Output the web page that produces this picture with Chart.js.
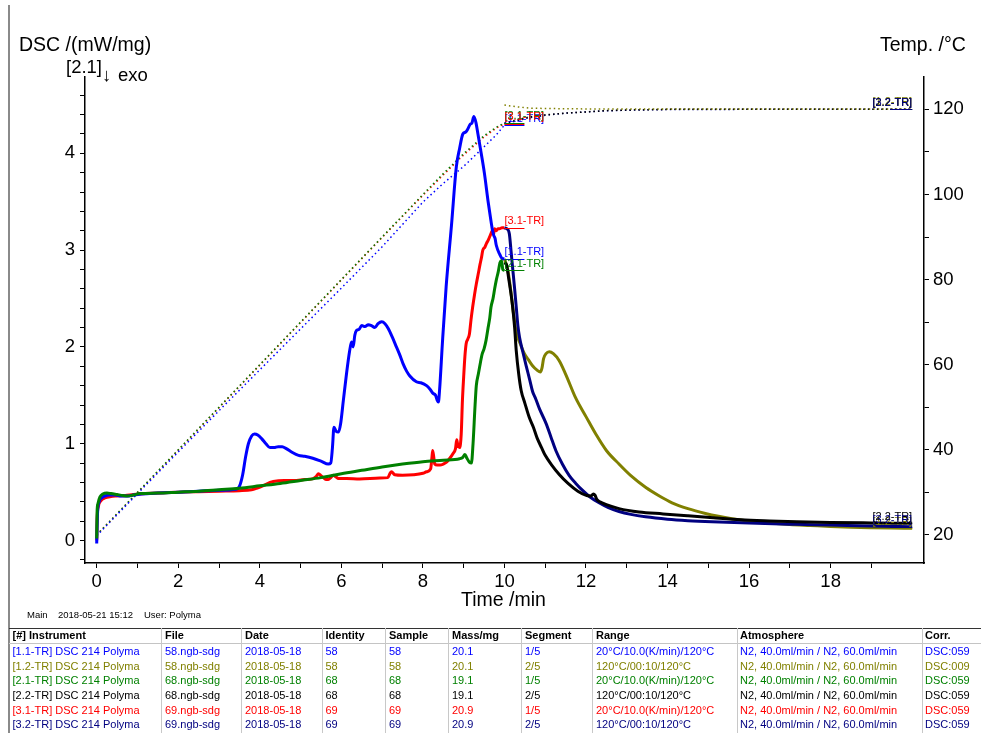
<!DOCTYPE html>
<html>
<head>
<meta charset="utf-8">
<script src="https://cdn.jsdelivr.net/npm/chart.js@4.4.0/dist/chart.umd.min.js"></script>
<style>
html,body{margin:0;padding:0;background:#fff;width:981px;height:733px;overflow:hidden;font-family:"Liberation Sans",Arial,sans-serif;}
#c{position:absolute;left:0;top:0;width:981px;height:610px;}
.t{position:absolute;white-space:nowrap;color:#000;line-height:1;}
.ln{position:absolute;}
</style>
</head>
<body>
<canvas id="c" width="981" height="610"></canvas>
<div id="overlay"></div>
<script>
// ---------------- DATA ----------------
// DSC curves (mW/mg) vs time (min)
const tBlue = [0,0.02,0.06,0.12,0.2,0.3,0.45,0.6,0.75,0.9,1.1,1.5,2.0,2.5,3.0,3.4,3.5,3.58,3.65,3.72,3.8,3.87,3.95,4.05,4.15,4.25,4.35,4.45,4.55,4.65,4.8,4.95,5.1,5.3,5.5,5.68,5.74,5.78,5.82,5.87,5.93,5.98,6.05,6.12,6.2,6.25,6.29,6.33,6.37,6.43,6.5,6.58,6.66,6.74,6.82,6.9,6.99,7.07,7.15,7.25,7.35,7.43,7.51,7.6,7.68,7.84,7.95,8.09,8.18,8.25,8.31,8.35,8.38,8.41,8.48,8.57,8.7,8.82,8.9,8.98,9.05,9.1,9.16,9.2,9.25,9.3,9.35,9.43,9.51,9.6,9.67,9.71,9.74,9.77,9.8,9.88,9.96,10.0];
const dscBlue = [-0.03,0.28,0.4,0.44,0.46,0.47,0.47,0.46,0.46,0.47,0.48,0.49,0.5,0.51,0.52,0.53,0.56,0.68,0.86,1.0,1.08,1.1,1.09,1.05,1.0,0.96,0.96,0.97,0.97,0.95,0.91,0.88,0.87,0.85,0.82,0.79,0.8,0.95,1.17,1.13,1.12,1.2,1.45,1.7,1.95,2.05,2.0,2.12,2.17,2.18,2.22,2.21,2.23,2.22,2.2,2.24,2.26,2.24,2.19,2.1,2.0,1.92,1.83,1.75,1.7,1.64,1.63,1.6,1.56,1.52,1.5,1.45,1.43,1.56,2.05,2.62,3.25,3.86,4.05,4.2,4.22,4.25,4.3,4.31,4.38,4.32,4.2,4.0,3.79,3.5,3.3,3.2,3.15,3.12,3.05,2.96,2.91,2.91];

const tOlive = [10.0,10.08,10.15,10.22,10.29,10.38,10.49,10.6,10.7,10.8,10.88,10.92,10.96,11.02,11.1,11.2,11.34,11.5,11.75,12.0,12.24,12.5,12.81,13.1,13.46,13.8,14.11,14.5,14.93,15.25,15.58,16.0,16.5,17.0,17.5,18.0,18.5,19.0,19.5,20.0];
const dscOlive = [2.91,2.8,2.6,2.35,2.15,2.04,1.93,1.86,1.8,1.76,1.74,1.78,1.88,1.93,1.95,1.93,1.86,1.72,1.47,1.28,1.1,0.93,0.79,0.67,0.55,0.46,0.39,0.33,0.28,0.25,0.225,0.2,0.18,0.165,0.155,0.145,0.138,0.133,0.129,0.126];

const tGreen = [0,0.01,0.03,0.08,0.15,0.25,0.35,0.5,0.65,0.75,0.9,1.06,1.5,2.0,2.5,3.0,3.5,4.0,4.5,5.0,5.5,6.0,6.5,7.0,7.5,8.0,8.5,8.9,8.98,9.03,9.08,9.14,9.19,9.23,9.28,9.31,9.36,9.39,9.45,9.5,9.55,9.6,9.64,9.67,9.72,9.76,9.8,9.85,9.89,9.93,9.96,10.0];
const dscGreen = [0.02,0.3,0.38,0.45,0.48,0.49,0.485,0.475,0.465,0.46,0.47,0.485,0.49,0.5,0.51,0.525,0.54,0.565,0.59,0.62,0.65,0.69,0.725,0.76,0.79,0.815,0.83,0.845,0.86,0.89,0.85,0.81,0.8,1.0,1.4,1.6,1.72,1.79,1.92,1.98,2.07,2.2,2.3,2.41,2.5,2.6,2.69,2.78,2.87,2.89,2.8,2.79];

const tBlack = [10.0,10.05,10.1,10.15,10.2,10.25,10.29,10.35,10.41,10.5,10.61,10.71,10.8,10.91,11.0,11.16,11.35,11.56,11.8,12.02,12.12,12.18,12.22,12.26,12.34,12.5,12.81,13.3,13.89,14.5,15.12,15.8,16.5,17.17,18.0,19.0,20.0];
const dscBlack = [2.87,2.85,2.72,2.58,2.42,2.2,1.96,1.72,1.55,1.42,1.27,1.17,1.06,0.96,0.88,0.78,0.68,0.59,0.51,0.465,0.46,0.48,0.47,0.43,0.4,0.37,0.33,0.295,0.275,0.255,0.235,0.215,0.203,0.194,0.187,0.182,0.178];

const tRed = [0,0.01,0.04,0.1,0.2,0.35,0.49,0.7,0.9,1.2,2.0,2.5,3.0,3.5,3.8,3.92,4.1,4.25,4.33,4.6,4.82,5.1,5.31,5.38,5.44,5.5,5.56,5.63,5.68,5.74,5.8,5.86,5.93,6.13,6.45,6.94,7.14,7.2,7.23,7.31,7.5,7.77,8.0,8.09,8.19,8.22,8.24,8.27,8.29,8.35,8.42,8.5,8.58,8.66,8.74,8.8,8.83,8.86,8.9,8.94,8.97,9.0,9.03,9.06,9.1,9.14,9.18,9.22,9.27,9.31,9.36,9.4,9.44,9.47,9.52,9.56,9.6,9.63,9.67,9.7,9.73,9.76,9.8,9.84,9.88,9.94,10.0];
const dscRed = [0.0,0.22,0.35,0.41,0.44,0.455,0.46,0.465,0.475,0.485,0.5,0.505,0.51,0.515,0.525,0.54,0.57,0.6,0.61,0.62,0.62,0.63,0.64,0.66,0.69,0.67,0.65,0.63,0.63,0.65,0.675,0.66,0.64,0.64,0.635,0.645,0.65,0.7,0.71,0.68,0.675,0.68,0.695,0.71,0.74,0.85,0.93,0.85,0.79,0.78,0.78,0.79,0.81,0.85,0.9,0.95,1.04,0.98,0.96,1.1,1.45,1.69,1.9,2.03,2.08,2.13,2.28,2.41,2.55,2.65,2.76,2.85,2.93,3.0,3.03,3.07,3.1,3.13,3.17,3.2,3.16,3.22,3.2,3.22,3.22,3.23,3.23];

const tNavy = [10.0,10.06,10.12,10.16,10.2,10.25,10.29,10.33,10.37,10.45,10.53,10.62,10.69,10.77,10.86,11.02,11.14,11.26,11.42,11.59,11.75,11.91,12.1,12.32,12.55,12.81,13.1,13.46,14.0,14.5,15.09,16.0,17.13,18.0,19.0,20.0];
const dscNavy = [3.23,3.22,3.17,3.0,2.82,2.6,2.41,2.22,2.1,1.95,1.81,1.66,1.54,1.46,1.36,1.21,1.07,0.93,0.79,0.67,0.59,0.52,0.45,0.39,0.34,0.3,0.27,0.245,0.22,0.205,0.193,0.18,0.168,0.16,0.15,0.143];

// Temperature curves (°C) vs time (min)
const tTempSeg1 = [0,1,2,3,4,5,6,7,8,8.5,9,9.5,9.8,10.0];
const tempBlue  = [19.8,29.7,39.5,49.2,58.8,68.4,78.0,87.7,98.2,102.6,106.6,111.2,114.0,116.3];
const tempGreen = [20.0,30.0,40.0,50.0,60.0,70.0,80.0,90.0,100.0,104.9,109.6,113.8,115.8,116.8];
const tempRed   = [20.0,29.9,39.9,49.9,59.9,69.9,79.9,89.9,99.8,104.6,109.3,113.5,115.6,116.6];
const tTempSeg2 = [10.0,10.3,10.6,11.0,11.5,12.0,12.5,13.0,14.0,16.0,18.0,20.0];
const tempOlive = [121.0,120.6,120.3,120.2,120.15,120.1,120.1,120.1,120.1,120.1,120.1,120.1];
const tempBlack = [116.8,117.5,118.2,118.7,119.1,119.4,119.7,119.85,120.0,120.0,120.0,120.0];
const tempNavy  = [116.6,117.3,118.0,118.6,119.1,119.4,119.65,119.8,119.95,120.0,120.0,120.0];

// Tick values and labels
const xTicks = [0,1,2,3,4,5,6,7,8,9,10,11,12,13,14,15,16,17,18,19];
const xLabeled = [0,2,4,6,8,10,12,14,16,18];
const yTicks = [-0.2,0,0.2,0.4,0.6,0.8,1,1.2,1.4,1.6,1.8,2,2.2,2.4,2.6,2.8,3,3.2,3.4,3.6,3.8,4,4.2,4.4,4.6];
const yLabeled = [0,1,2,3,4];
const tTicks = [20,30,40,50,60,70,80,90,100,110,120];
const tLabeled = [20,40,60,80,100,120];

// Table
const tableHeaders = ['[#] Instrument','File','Date','Identity','Sample','Mass/mg','Segment','Range','Atmosphere','Corr.'];
const instruments = ['[1.1-TR] DSC 214 Polyma','[1.2-TR] DSC 214 Polyma','[2.1-TR] DSC 214 Polyma','[2.2-TR] DSC 214 Polyma','[3.1-TR] DSC 214 Polyma','[3.2-TR] DSC 214 Polyma'];
const files = ['58.ngb-sdg','58.ngb-sdg','68.ngb-sdg','68.ngb-sdg','69.ngb-sdg','69.ngb-sdg'];
const dates = ['2018-05-18','2018-05-18','2018-05-18','2018-05-18','2018-05-18','2018-05-18'];
const identities = ['58','58','68','68','69','69'];
const samples = ['58','58','68','68','69','69'];
const masses = ['20.1','20.1','19.1','19.1','20.9','20.9'];
const segments = ['1/5','2/5','1/5','2/5','1/5','2/5'];
const ranges = ['20°C/10.0(K/min)/120°C','120°C/00:10/120°C','20°C/10.0(K/min)/120°C','120°C/00:10/120°C','20°C/10.0(K/min)/120°C','120°C/00:10/120°C'];
const atmospheres = ['N2, 40.0ml/min / N2, 60.0ml/min','N2, 40.0ml/min / N2, 60.0ml/min','N2, 40.0ml/min / N2, 60.0ml/min','N2, 40.0ml/min / N2, 60.0ml/min','N2, 40.0ml/min / N2, 60.0ml/min','N2, 40.0ml/min / N2, 60.0ml/min'];
const corrs = ['DSC:059','DSC:009','DSC:059','DSC:059','DSC:059','DSC:059'];
const tags = ['[1.1-TR]','[1.2-TR]','[2.1-TR]','[2.2-TR]','[3.1-TR]','[3.2-TR]'];

// ---------------- STYLE ----------------
const FONT = '"Liberation Sans", Arial, sans-serif';
const C = {blue:'#0000ff', olive:'#808000', green:'#008000', black:'#000000', red:'#ff0000', navy:'#000080'};
const rowColors = [C.blue, C.olive, C.green, C.black, C.red, C.navy];

const pts = (xs, ys) => xs.map((x, i) => ({x: x, y: ys[i]}));
function dsc(label, xs, ys, color, side) {
  return {data: pts(xs, ys), borderColor: color, backgroundColor: color, borderWidth: 3, pointRadius: 0,
    yAxisID: 'y', cubicInterpolationMode: 'monotone', fill: false, endLabel: label, labelSide: side, labelRank: 0};
}
function temp(label, xs, ys, color, side) {
  return {data: pts(xs, ys), borderColor: color, backgroundColor: color, borderWidth: 1.5, borderDash: [1.5, 3],
    pointRadius: 0, yAxisID: 'yT', tension: 0, fill: false, endLabel: label, labelSide: side};
}

const datasets = [
  dsc(tags[2], tGreen, dscGreen, C.green, 'left'),   // 0
  dsc(tags[0], tBlue, dscBlue, C.blue, 'left'),      // 1
  dsc(tags[3], tBlack, dscBlack, C.black, 'right'),  // 2
  dsc(tags[5], tNavy, dscNavy, C.navy, 'right'),     // 3
  dsc(tags[4], tRed, dscRed, C.red, 'left'),         // 4
  dsc(tags[1], tOlive, dscOlive, C.olive, 'right'),  // 5
  temp(tags[0], tTempSeg1, tempBlue, C.blue, 'left'),    // 6
  temp(tags[2], tTempSeg1, tempGreen, C.green, 'left'),  // 7
  temp(tags[4], tTempSeg1, tempRed, C.red, 'left'),      // 8
  temp(tags[1], tTempSeg2, tempOlive, C.olive, 'right'), // 9
  temp(tags[3], tTempSeg2, tempBlack, C.black, 'right'), // 10
  temp(tags[5], tTempSeg2, tempNavy, C.navy, 'right')    // 11
];
const labelOrder = [1, 5, 0, 2, 4, 3, 6, 9, 7, 10, 8, 11];

const endLabels = {
  id: 'endLabels',
  afterDatasetsDraw(chart) {
    const ctx = chart.ctx;
    ctx.save();
    ctx.font = '11px ' + FONT;
    ctx.textBaseline = 'bottom';
    labelOrder.forEach(i => {
      const ds = chart.data.datasets[i];
      const meta = chart.getDatasetMeta(i);
      const p = meta.data[meta.data.length - 1];
      if (!p) return;
      ctx.fillStyle = ds.borderColor;
      ctx.strokeStyle = ds.borderColor;
      ctx.lineWidth = 1;
      ctx.beginPath();
      if (ds.labelSide === 'left') {
        ctx.textAlign = 'left';
        ctx.fillText(ds.endLabel, p.x, p.y - 1);
        ctx.moveTo(p.x, Math.round(p.y) + 0.5); ctx.lineTo(p.x + 20, Math.round(p.y) + 0.5);
      } else {
        ctx.textAlign = 'right';
        ctx.fillText(ds.endLabel, p.x, p.y - 1);
        ctx.moveTo(p.x - 22, Math.round(p.y) + 0.5); ctx.lineTo(p.x, Math.round(p.y) + 0.5);
      }
      ctx.stroke();
    });
    ctx.restore();
  }
};

const gridOpts = {drawOnChartArea: false, drawTicks: true, tickLength: 5, color: '#000', lineWidth: 1};
const borderOpts = {color: '#000', width: 1.5};
const tickFont = {family: FONT, size: 18.5};

new Chart(document.getElementById('c'), {
  type: 'line',
  data: {datasets: datasets},
  options: {
    responsive: false, animation: false, devicePixelRatio: 1, maintainAspectRatio: false,
    layout: {padding: {top: 77, left: 0, right: 0, bottom: 0}},
    plugins: {legend: {display: false}, tooltip: {enabled: false}},
    elements: {line: {borderJoinStyle: 'round'}},
    scales: {
      x: {
        type: 'linear', position: 'bottom', min: -0.287, max: 20.29,
        grid: gridOpts, border: borderOpts,
        ticks: {autoSkip: false, maxRotation: 0, color: '#000', font: tickFont, padding: 3,
          callback: v => xLabeled.includes(Math.round(v * 100) / 100) ? String(v) : ''},
        afterBuildTicks: s => { s.ticks = xTicks.map(v => ({value: v})); },
        afterFit: s => { s.height = 47; }
      },
      y: {
        type: 'linear', position: 'left', min: -0.232, max: 4.788,
        grid: gridOpts, border: borderOpts,
        ticks: {autoSkip: false, color: '#000', font: tickFont, padding: 5,
          callback: v => { const r = Math.round(v * 100) / 100; return yLabeled.includes(r) ? String(r) : ''; }},
        afterBuildTicks: s => { s.ticks = yTicks.map(v => ({value: v})); },
        afterFit: s => { s.width = 85; }
      },
      yT: {
        type: 'linear', position: 'right', min: 13.4, max: 127.6,
        grid: gridOpts, border: borderOpts,
        ticks: {autoSkip: false, color: '#000', font: tickFont, padding: 4,
          callback: v => tLabeled.includes(v) ? String(v) : ''},
        afterBuildTicks: s => { s.ticks = tTicks.map(v => ({value: v})); },
        afterFit: s => { s.width = 57; }
      }
    }
  },
  plugins: [endLabels]
});

// ---------------- TEXT / TABLE OVERLAY ----------------
const ov = document.getElementById('overlay');
function txt(s, left, baseline, size, color, bold) {
  const d = document.createElement('div');
  d.className = 't';
  d.textContent = s;
  d.style.left = left + 'px';
  d.style.top = (baseline - 0.8465 * size) + 'px';
  d.style.fontSize = size + 'px';
  d.style.color = color || '#000';
  if (bold) d.style.fontWeight = 'bold';
  ov.appendChild(d);
}
function line(left, top, w, h, color) {
  const d = document.createElement('div');
  d.className = 'ln';
  d.style.left = left + 'px'; d.style.top = top + 'px';
  d.style.width = w + 'px'; d.style.height = h + 'px';
  d.style.background = color;
  ov.appendChild(d);
}
// axis titles
txt('DSC /(mW/mg)', 19, 51.7, 19.5);
txt('[2.1]', 66, 74, 18.5);
txt('\u2193', 102, 82, 18.5);
txt('exo', 118, 82, 18.5);
txt('Temp. /°C', 880, 51.7, 19.5);
txt('Time /min', 461, 607, 19.5);
// footer
txt('Main', 27, 618.3, 9.5);
txt('2018-05-21 15:12', 58, 618.3, 9.5);
txt('User: Polyma', 144, 618.3, 9.5);
// frame lines
line(8, 5, 2, 728, '#8a8a8a');
line(9, 628, 972, 1, '#333');
line(9, 643, 972, 1, '#c4c4c4');
const sepX = [161, 241, 322, 385, 448, 521, 592, 737, 922];
sepX.forEach(x => line(x, 628, 1, 105, '#c8c8c8'));
// table
const colX = [12.5, 165, 245, 325.5, 389, 452, 525, 596, 740, 925];
tableHeaders.forEach((h, j) => txt(h, colX[j], 639.7, 11, '#000', true));
const cols = [instruments, files, dates, identities, samples, masses, segments, ranges, atmospheres, corrs];
for (let i = 0; i < 6; i++) {
  cols.forEach((col, j) => txt(col[i], colX[j], 655.5 + 14.6 * i, 11, rowColors[i]));
}
</script>
</body>
</html>
